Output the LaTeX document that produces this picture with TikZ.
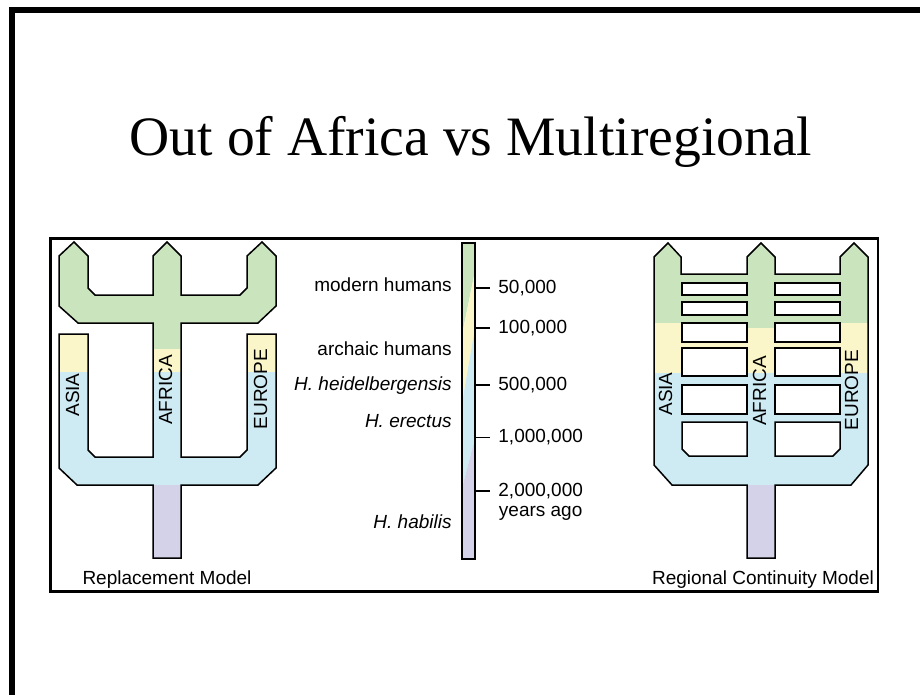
\documentclass[tikz,border=0pt]{standalone}
\usepackage{fontspec}
\setmainfont{Liberation Serif}
\setsansfont{Liberation Sans}
\usetikzlibrary{positioning}
\definecolor{bandgreen}{RGB}{202,228,190}
\definecolor{bandyellow}{RGB}{250,246,202}
\definecolor{bandblue}{RGB}{206,234,242}
\definecolor{bandpurple}{RGB}{212,210,232}

\newcommand{\replacementpath}{%
  (59,256) -- (74,242) -- (88,256) -- (88,288) -- (95,295) -- (153,295)
  -- (153,256) -- (167,242) -- (181,256) -- (181,295) -- (240,295)
  -- (247,288) -- (247,256) -- (262,242) -- (276,256) -- (276,306)
  -- (258,323) -- (181,323) -- (181,457) -- (240,457) -- (247,450)
  -- (247,334) -- (276,334) -- (276,468) -- (258,485) -- (181,485)
  -- (181,558) -- (153,558) -- (153,485) -- (77,485) -- (59,468)
  -- (59,334) -- (88,334) -- (88,450) -- (95,457) -- (153,457)
  -- (153,323) -- (78,323) -- (59,306) -- cycle}
\newcommand{\continuitypath}{%
  (654,257) -- (668,243) -- (681,257) -- (681,274) -- (747,274)
  -- (747,257) -- (761,243) -- (775,257) -- (775,274) -- (840,274)
  -- (840,257) -- (854,243) -- (868,257) -- (868,465) -- (851,485)
  -- (775,485) -- (775,558) -- (747,558) -- (747,485) -- (672,485)
  -- (654,465) -- cycle}

\begin{document}
\begin{tikzpicture}[
    x=0.5pt, y=-0.5pt,
    outline/.style={draw=black, line width=0.75pt},
    hole/.style={draw=black, fill=white, line width=0.75pt},
    sans/.style={font=\sffamily\fontsize{9.5}{11}\selectfont, text height=7pt, text depth=2pt},
    region/.style={sans, rotate=90, inner sep=0pt},
    species/.style={sans, anchor=east, inner sep=0pt},
    age/.style={sans, anchor=west, inner xsep=4pt, inner ysep=0pt},
    tick/.style={line width=1pt},
    caption/.style={sans, inner sep=0pt}
  ]
    \useasboundingbox (0,0) rectangle (920,695);
    \fill (9,7) rectangle (15,695);
    \fill (9,7) rectangle (920,13);
    \node[font=\fontsize{27.8}{33}\selectfont, anchor=base] (title) at (471,156) {Out of Africa vs Multiregional};
    \draw[line width=1.2pt] (50.5,238.5) rectangle (878,591.5);

    \begin{scope}
      \clip \replacementpath;
      \fill[bandgreen] (50,238) rectangle (300,323);
      \fill[bandyellow] (50,323) rectangle (300,372);
      \fill[bandgreen] (153,323) rectangle (181,349);
      \fill[bandblue] (50,372) rectangle (300,485);
      \fill[bandpurple] (50,485) rectangle (300,560);
    \end{scope}
    \draw[outline] \replacementpath;

    \begin{scope}
      \clip \continuitypath;
      \fill[bandgreen] (640,238) rectangle (880,323);
      \fill[bandyellow] (640,323) rectangle (880,373);
      \fill[bandgreen] (747,323) rectangle (775,328);
      \fill[bandblue] (640,373) rectangle (880,485);
      \fill[bandpurple] (640,485) rectangle (880,560);
    \end{scope}
    \draw[outline] \continuitypath;
    \foreach \ytop/\ybot in {283/295, 302/315, 323/342, 348/376, 385/414} {
      \draw[hole] (682,\ytop) rectangle (747,\ybot);
      \draw[hole] (775,\ytop) rectangle (840,\ybot);
    }
    \draw[hole] (682,422) -- (747,422) -- (747,456) -- (689,456) -- (682,449) -- cycle;
    \draw[hole] (775,422) -- (840,422) -- (840,449) -- (833,456) -- (775,456) -- cycle;

    \fill[bandgreen] (462,243) -- (475,243) -- (475,271) -- (462,335) -- cycle;
    \fill[bandyellow] (462,335) -- (475,271) -- (475,328) -- (462,403) -- cycle;
    \fill[bandblue] (462,403) -- (475,328) -- (475,438) -- (462,488) -- cycle;
    \fill[bandpurple] (462,488) -- (475,438) -- (475,559) -- (462,559) -- cycle;
    \node[draw, line width=0.75pt, minimum width=6.5pt, minimum height=158pt, inner sep=0pt, outer sep=0pt] (timebar) at (468.5,401) {};

    \node[species] (lbmodern) at (452,287) {modern humans};
    \node[species] (lbarchaic) at (452,350) {archaic humans};
    \node[species, font=\sffamily\itshape\fontsize{9.5}{11}\selectfont] (lbheidel) at (452,385) {H. heidelbergensis};
    \node[species, font=\sffamily\itshape\fontsize{9.5}{11}\selectfont] (lberectus) at (452,422) {H. erectus};
    \node[species, font=\sffamily\itshape\fontsize{9.5}{11}\selectfont] (lbhabilis) at (452,523) {H. habilis};

    \node[age] (a50k) at (490,288) {50,000};
    \node[age] (a100k) at (490,328) {100,000};
    \node[age] (a500k) at (490,385) {500,000};
    \node[age] (a1m) at (490,437) {1,000,000};
    \node[age] (a2m) at (490,491) {2,000,000};
    \node[age, below=1pt of a2m] (yearsago) {years ago};
    \foreach \a in {a50k, a100k, a500k, a2m}
      \draw[tick] (timebar.east |- \a.west) -- (\a.west);
    \draw[line width=0.5pt] (timebar.east |- a1m.west) -- (a1m.west);

    \node[region] (rasia) at (74,395) {ASIA};
    \node[region] (rafrica) at (167,390) {AFRICA};
    \node[region] (reurope) at (262,389) {EUROPE};
    \node[region] (casia) at (667,394) {ASIA};
    \node[region] (cafrica) at (761,391) {AFRICA};
    \node[region] (ceurope) at (853,390) {EUROPE};

    \node[caption] (rcaption) at (167,579) {Replacement Model};
    \node[caption] (ccaption) at (763,579) {Regional Continuity Model};
\end{tikzpicture}
\end{document}
